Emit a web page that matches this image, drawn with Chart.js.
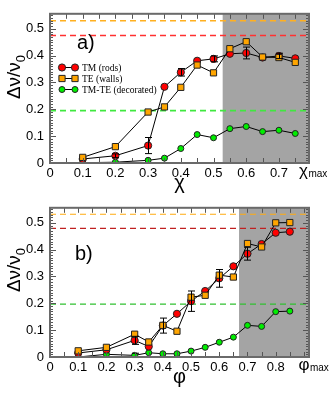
<!DOCTYPE html>
<html>
<head>
<meta charset="utf-8">
<script src="https://cdn.jsdelivr.net/npm/chart.js@4.4.0/dist/chart.umd.min.js"></script>
<style>
  html, body { margin: 0; padding: 0; background: #fff; }
  canvas { display: block; }
</style>
</head>
<body>
<canvas id="chartA" width="332" height="194"></canvas>
<canvas id="chartB" width="332" height="200"></canvas>
<script>
// panel a) : chi
const chiX = [0.1, 0.2, 0.3, 0.35, 0.4, 0.45, 0.5, 0.55, 0.6, 0.65, 0.7, 0.75];
const chiTM = [0.015, 0.027, 0.065, 0.284, 0.338, 0.381, 0.388, 0.407, 0.41, 0.393, 0.399, 0.39];
const chiTMerr = [0, 0.007, 0.03, 0, 0.014, 0, 0.011, 0, 0.022, 0, 0.01, 0];
const chiTE = [0.021, 0.061, 0.19, 0.209, 0.282, 0.365, 0.336, 0.426, 0.452, 0.395, 0.393, 0.375];
const chiTMTE = [0.001, 0.003, 0.01, 0.018, 0.054, 0.106, 0.094, 0.128, 0.136, 0.117, 0.122, 0.11];
const chiShadeStart = 0.528;
const chiXTicks = [0, 0.1, 0.2, 0.3, 0.4, 0.5, 0.6, 0.7];
const chiMaxTick = 0.775;
const chiXMax = 0.792;
const chiLimits = { te: 0.53, tm: 0.475, tmte: 0.195 };

// panel b) : phi
const phiX = [0.1, 0.2, 0.3, 0.35, 0.4, 0.45, 0.5, 0.55, 0.6, 0.65, 0.7, 0.75, 0.8, 0.85];
const phiTM = [0.015, 0.027, 0.062, 0.039, 0.117, 0.161, 0.208, 0.246, 0.293, 0.338, 0.385, 0.421, 0.463, 0.467];
const phiTMerr = [0, 0, 0.015, 0, 0.028, 0, 0.038, 0, 0.033, 0, 0.024, 0, 0, 0];
const phiTE = [0.023, 0.036, 0.085, 0.056, 0.118, 0.096, 0.223, 0.23, 0.305, 0.298, 0.423, 0.41, 0.5, 0.501];
const phiTMTE = [0.0, 0.01, 0.006, 0.016, 0.012, 0.012, 0.022, 0.036, 0.055, 0.074, 0.118, 0.114, 0.169, 0.171];
const phiTMTEerr = [0, 0, 0.008, 0, 0, 0, 0, 0, 0, 0, 0, 0, 0, 0];
const phiShadeStart = 0.67;
const phiXTicks = [0, 0.1, 0.2, 0.3, 0.4, 0.5, 0.6, 0.7, 0.8];
const phiMaxTick = 0.9;
const phiXMax = 0.918;
const phiLimits = { te: 0.532, tm: 0.479, tmte: 0.197 };

const yTicks = [0, 0.1, 0.2, 0.3, 0.4, 0.5];
const yMax = 0.556;

const FONT = "'Liberation Sans', Arial, sans-serif";

const legendRows = [
  { label: 'TM (rods)', style: 'circle', radius: 3.6, fill: '#ff0000' },
  { label: 'TE (walls)', style: 'rect', radius: 4.4, fill: '#ffa500' },
  { label: 'TM-TE (decorated)', style: 'circle', radius: 3, fill: '#00ee00' }
];

function pts(xs, ys) {
  return xs.map((x, i) => ({ x: x, y: ys[i] }));
}

function series(label, xs, ys, fill, style, radius, order) {
  return {
    label: label,
    data: pts(xs, ys),
    borderColor: '#000',
    borderWidth: 1,
    pointStyle: style,
    pointRadius: radius,
    pointBackgroundColor: fill,
    pointBorderColor: '#222',
    pointBorderWidth: 1,
    order: order
  };
}

function limitLine(y, xmax, color, width) {
  return {
    data: [{ x: 0, y: y }, { x: xmax, y: y }],
    borderColor: color,
    borderWidth: width,
    borderDash: [6, 4],
    pointRadius: 0,
    order: 10
  };
}

// shaded region, error bars, frame with inward ticks, titles, legend
const decor = {
  id: 'decor',
  beforeDatasetsDraw(chart, args, o) {
    const ctx = chart.ctx, a = chart.chartArea, x = chart.scales.x;
    ctx.save();
    ctx.fillStyle = '#a4a4a4';
    const sx = x.getPixelForValue(o.shadeStart);
    ctx.fillRect(sx, a.top, a.right - sx, a.bottom - a.top);
    ctx.restore();
  },
  afterDatasetsDraw(chart, args, o) {
    const ctx = chart.ctx, x = chart.scales.x, y = chart.scales.y;
    ctx.save();
    ctx.strokeStyle = '#000';
    ctx.lineWidth = 1;
    o.errors.forEach(e => {
      e.xs.forEach((xv, i) => {
        const err = e.err[i];
        if (!err) return;
        const px = Math.round(x.getPixelForValue(xv)) + 0.5;
        const y1 = y.getPixelForValue(e.ys[i] + err);
        const y2 = y.getPixelForValue(e.ys[i] - err);
        ctx.beginPath();
        ctx.moveTo(px, y1); ctx.lineTo(px, y2);
        ctx.moveTo(px - 3.5, y1); ctx.lineTo(px + 3.5, y1);
        ctx.moveTo(px - 3.5, y2); ctx.lineTo(px + 3.5, y2);
        ctx.stroke();
      });
    });
    ctx.restore();
  },
  afterDraw(chart, args, o) {
    const ctx = chart.ctx, a = chart.chartArea, x = chart.scales.x, y = chart.scales.y;
    ctx.save();
    // ticks
    ctx.strokeStyle = '#555';
    ctx.lineWidth = 1;
    ctx.beginPath();
    for (let v = 0.05; v < o.xMax; v += 0.05) {
      const px = Math.round(x.getPixelForValue(v)) + 0.5;
      ctx.moveTo(px, a.bottom); ctx.lineTo(px, a.bottom - 5);
      ctx.moveTo(px, a.top); ctx.lineTo(px, a.top + 5);
    }
    for (let k = 1; k * 0.01 < yMax; k++) {
      const py = Math.round(y.getPixelForValue(k * 0.01)) + 0.5;
      const len = k % 10 === 0 ? 6 : 3;
      ctx.moveTo(a.left, py); ctx.lineTo(a.left + len, py);
      ctx.moveTo(a.right, py); ctx.lineTo(a.right - len, py);
    }
    ctx.stroke();
    // frame
    ctx.strokeStyle = '#6a6a6a';
    ctx.lineWidth = 2;
    ctx.strokeRect(a.left, a.top, a.right - a.left, a.bottom - a.top);

    // x max label
    ctx.fillStyle = '#000';
    ctx.textBaseline = 'alphabetic';
    const mx = x.getPixelForValue(o.maxTick);
    ctx.font = '17px ' + FONT;
    const gw = ctx.measureText(o.sym).width;
    ctx.textAlign = 'left';
    ctx.fillText(o.sym, mx - gw / 2, a.bottom + 13);
    ctx.font = '10px ' + FONT;
    ctx.fillText('max', mx + gw / 2 + 0.5, a.bottom + 14);

    // x title
    ctx.textAlign = 'center';
    ctx.font = '20px ' + FONT;
    ctx.fillText(o.sym, (a.left + a.right) / 2, a.bottom + 26);

    // y title
    ctx.save();
    ctx.translate(20, o.yTitleY);
    ctx.rotate(-Math.PI / 2);
    ctx.font = '19px ' + FONT;
    const w1 = ctx.measureText('\u0394\u03bd/\u03bd').width;
    ctx.font = '13px ' + FONT;
    const w2 = ctx.measureText('0').width;
    ctx.textAlign = 'left';
    ctx.font = '19px ' + FONT;
    ctx.fillText('\u0394\u03bd/\u03bd', -(w1 + w2) / 2, 0);
    ctx.font = '13px ' + FONT;
    ctx.fillText('0', -(w1 + w2) / 2 + w1, 5);
    ctx.restore();

    // panel label
    ctx.textAlign = 'left';
    ctx.font = '20px ' + FONT;
    ctx.fillText(o.panel, o.panelX, o.panelY);

    // legend
    if (o.legend) {
      o.legend.forEach((row, i) => {
        const ly = 67.5 + i * 11;
        ctx.strokeStyle = '#000';
        ctx.lineWidth = 1;
        ctx.beginPath();
        ctx.moveTo(62, ly); ctx.lineTo(75, ly);
        ctx.stroke();
        [62, 75].forEach(cx => {
          ctx.fillStyle = row.fill;
          ctx.strokeStyle = '#222';
          Chart.helpers.drawPoint(ctx, {
            pointStyle: row.style, radius: row.radius, borderWidth: 1
          }, cx, ly);
        });
        ctx.fillStyle = '#000';
        ctx.font = "9.5px 'Liberation Serif', 'Times New Roman', serif";
        ctx.textBaseline = 'middle';
        ctx.fillText(row.label, 82, ly + 0.5);
      });
    }
    ctx.restore();
  }
};

function makeChart(id, cfg) {
  const canvas = document.getElementById(id);
  const bottomPad = canvas.height - 194;
  return new Chart(canvas, {
    type: 'line',
    data: {
      datasets: [
        series('TE (walls)', cfg.xs, cfg.te, '#ffa500', 'rect', 4.4, 1),
        series('TM (rods)', cfg.xs, cfg.tm, '#ff0000', 'circle', 3.6, 2),
        series('TM-TE (decorated)', cfg.xs, cfg.tmte, '#00ee00', 'circle', 3, 3),
        limitLine(cfg.limits.te, cfg.xMax, cfg.dash.te, cfg.dashW),
        limitLine(cfg.limits.tm, cfg.xMax, cfg.dash.tm, cfg.dashW),
        limitLine(cfg.limits.tmte, cfg.xMax, cfg.dash.tmte, cfg.dashW)
      ]
    },
    options: {
      responsive: false,
      animation: false,
      layout: { padding: { left: 0, top: 5, right: 23, bottom: bottomPad } },
      plugins: {
        legend: { display: false },
        tooltip: { enabled: false },
        decor: {
          shadeStart: cfg.shadeStart,
          xMax: cfg.xMax,
          maxTick: cfg.maxTick,
          sym: cfg.sym,
          yTitleY: cfg.yTitleY,
          panel: cfg.panel,
          panelX: cfg.panelX,
          panelY: cfg.panelY,
          legend: cfg.legend,
          errors: cfg.errors
        }
      },
      scales: {
        x: {
          type: 'linear',
          min: 0,
          max: cfg.xMax,
          grid: { display: false, drawTicks: false },
          border: { display: false },
          afterBuildTicks: s => { s.ticks = cfg.xTicks.map(v => ({ value: v })); },
          afterFit: s => { s.height = 31; },
          ticks: {
            padding: 3,
            color: '#000',
            font: { family: FONT, size: 13 },
            maxRotation: 0,
            callback: v => v === 0 ? '0' : v.toFixed(1)
          }
        },
        y: {
          min: 0,
          max: yMax,
          grid: { display: false, drawTicks: false },
          border: { display: false },
          afterBuildTicks: s => { s.ticks = yTicks.map(v => ({ value: v })); },
          afterFit: s => { s.width = 50; },
          ticks: {
            padding: 6,
            color: '#000',
            font: { family: FONT, size: 13 },
            callback: v => v === 0 ? '0' : v.toFixed(1)
          }
        }
      }
    },
    plugins: [decor]
  });
}

makeChart('chartA', {
  xs: chiX, tm: chiTM, te: chiTE, tmte: chiTMTE,
  limits: chiLimits, xMax: chiXMax, xTicks: chiXTicks, maxTick: chiMaxTick,
  shadeStart: chiShadeStart, sym: '\u03c7', yTitleY: 77,
  panel: 'a)', panelX: 77, panelY: 49,
  dash: { te: '#ffb020', tm: '#ff3030', tmte: '#40e840' }, dashW: 1.6,
  legend: legendRows,
  errors: [{ xs: chiX, ys: chiTM, err: chiTMerr }]
});

makeChart('chartB', {
  xs: phiX, tm: phiTM, te: phiTE, tmte: phiTMTE,
  limits: phiLimits, xMax: phiXMax, xTicks: phiXTicks, maxTick: phiMaxTick,
  shadeStart: phiShadeStart, sym: '\u03c6', yTitleY: 76,
  panel: 'b)', panelX: 75, panelY: 66,
  dash: { te: '#ffaa10', tm: '#c02020', tmte: '#30c030' }, dashW: 1.2,
  legend: null,
  errors: [{ xs: phiX, ys: phiTM, err: phiTMerr }, { xs: phiX, ys: phiTMTE, err: phiTMTEerr }]
});
</script>
</body>
</html>
